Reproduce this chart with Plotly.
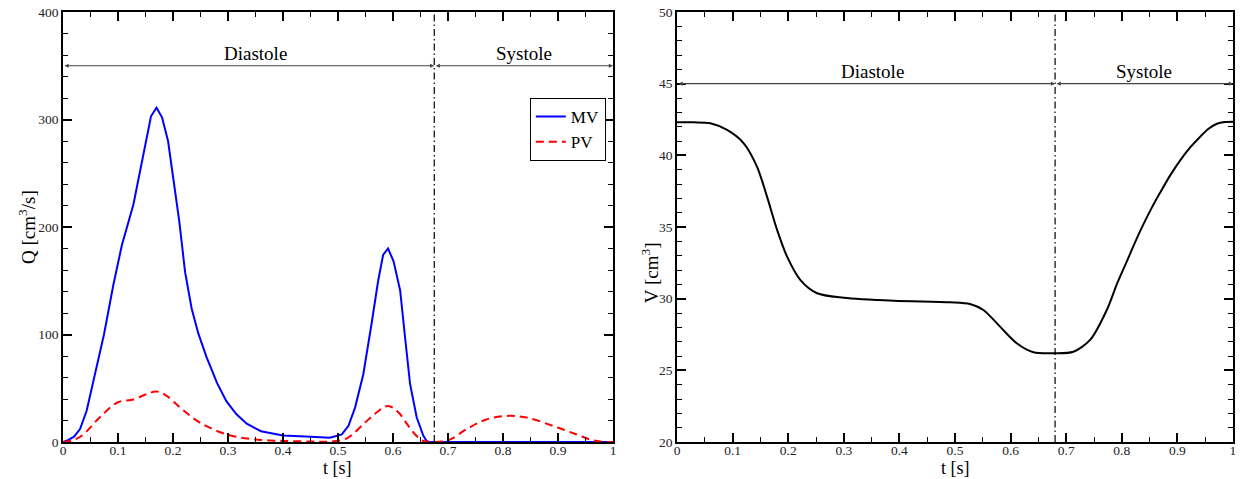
import plotly.graph_objects as go

# ---------------- data ----------------
t_mv = [0, 0.01, 0.02, 0.031, 0.043, 0.055, 0.0745, 0.0915, 0.107, 0.128, 0.14, 0.151,
        0.16, 0.17, 0.18, 0.191, 0.2, 0.2115, 0.222, 0.234, 0.246, 0.261, 0.28, 0.297,
        0.315, 0.334, 0.36, 0.40, 0.45, 0.485, 0.507, 0.519, 0.531, 0.546, 0.561, 0.573,
        0.582, 0.591, 0.601, 0.613, 0.622, 0.631, 0.643, 0.655, 0.661, 0.665, 0.7, 0.8,
        0.9, 1.0]
q_mv = [0, 2, 5, 12, 29, 55, 100, 146, 183, 221, 252, 283,
        303, 311, 302, 280, 249, 205, 158, 124, 101, 79, 55, 38,
        26, 17, 10, 6, 5, 4, 7, 15, 32, 63, 110, 150,
        174, 180, 168, 141, 97, 54, 23, 6, 1, 0, 0, 0,
        0, 0]

t_pv = [0, 0.02, 0.037, 0.067, 0.1, 0.128, 0.152, 0.17, 0.1885, 0.213, 0.249, 0.298,
        0.346, 0.40, 0.45, 0.485, 0.516, 0.546, 0.57, 0.591, 0.61, 0.628, 0.643, 0.655,
        0.67, 0.676, 0.704, 0.734, 0.77, 0.807, 0.843, 0.891, 0.934, 0.964, 0.99, 1.0]
q_pv = [0, 2, 7, 23, 37, 39.5, 44.5, 47, 43, 32, 18, 7,
        2.5, 1, 0.5, 0.5, 3.4, 16.5, 27.4, 33.6, 27.4, 15, 5.6, 1,
        0, 0, 2.5, 12, 21, 24.3, 22.7, 15, 7, 1.5, 0, 0]

t_v = [0, 0.03, 0.06, 0.09, 0.12, 0.144, 0.162, 0.18, 0.198, 0.222, 0.252, 0.30, 0.39,
       0.491, 0.527, 0.551, 0.581, 0.611, 0.641, 0.68, 0.713, 0.743, 0.773, 0.791, 0.809,
       0.824, 0.839, 0.854, 0.869, 0.887, 0.905, 0.923, 0.941, 0.956, 0.971, 0.985, 1.0]
v_lv = [42.31, 42.3, 42.24, 41.77, 40.84, 39.2, 37.1, 34.8, 32.93, 31.3, 30.38, 30.07, 29.86,
        29.75, 29.63, 29.21, 28.05, 26.89, 26.26, 26.19, 26.3, 27.12, 29.21, 31.0, 32.6,
        33.95, 35.2, 36.35, 37.4, 38.6, 39.65, 40.55, 41.3, 41.85, 42.2, 42.33, 42.35]

phase_labels = ["Diastole", "Systole"]
t_sys_left = 0.675     # start of systole (left panel)
t_sys_right = 0.68     # start of systole (right panel)
arrow_q = 350          # level of phase arrows, left panel
arrow_v = 45           # level of phase arrows, right panel

SERIF = "Liberation Serif"

fig = go.Figure()
fig.add_trace(go.Scatter(x=t_mv, y=q_mv, mode="lines", name="MV",
                         line=dict(color="#0000ff", width=2), xaxis="x", yaxis="y"))
fig.add_trace(go.Scatter(x=t_pv, y=q_pv, mode="lines", name="PV", line_shape="spline",
                         line=dict(color="#ff0000", width=2, dash="8px,5px"), xaxis="x", yaxis="y"))
fig.add_trace(go.Scatter(x=t_v, y=v_lv, mode="lines", name="V", line_shape="spline",
                         line=dict(color="black", width=2, smoothing=0.8), xaxis="x2", yaxis="y2",
                         showlegend=False))

def axis(rng, dtick, mdtick, domain=None, anchor=None, standoff=0):
    d = dict(range=rng, dtick=dtick, showline=True, linecolor="black", linewidth=1.5,
             mirror="allticks", ticks="inside", ticklen=9, tickwidth=1.5, tickcolor="black",
             minor=dict(ticks="inside", ticklen=5, tickwidth=1, tickcolor="black", dtick=mdtick),
             showgrid=False, zeroline=False, automargin=False, ticklabelstandoff=standoff,
             tickfont=dict(family=SERIF, size=13.5, color="#222"))
    if domain is not None:
        d["domain"] = domain
    if anchor is not None:
        d["anchor"] = anchor
    return d

xl = axis([0, 1], 0.1, 0.05, domain=[0, 0.4701], anchor="y", standoff=-5)
xr = axis([0, 1], 0.1, 0.05, domain=[0.5248, 1], anchor="y2", standoff=-5)
yl = axis([0, 400], 100, 20, anchor="x")
yr = axis([20, 50], 5, 1, anchor="x2")

TF = dict(family=SERIF, size=19, color="black")
XF = dict(family=SERIF, size=18, color="black")
annotations = [
    dict(text="t [s]", x=0.2350, y=-0.086, xref="paper", yref="paper", showarrow=False,
         xanchor="center", yanchor="bottom", font=XF, borderpad=0),
    dict(text="t [s]", x=0.7624, y=-0.086, xref="paper", yref="paper", showarrow=False,
         xanchor="center", yanchor="bottom", font=XF, borderpad=0),
    dict(text="Q [cm<sup>3</sup>/s]", x=-0.0308, y=0.5, xref="paper", yref="paper", showarrow=False,
         xanchor="center", yanchor="middle", textangle=-90, font=TF),
    dict(text="V [cm<sup>3</sup>]", x=0.5017, y=0.395, xref="paper", yref="paper", showarrow=False,
         xanchor="center", yanchor="middle", textangle=-90, font=TF),
]

def phase_arrows(xref, yref, level, tsys):
    for a, b in [(0, tsys), (tsys, 1)]:
        annotations.append(dict(x=b, y=level, ax=a, ay=level, xref=xref, yref=yref,
                                axref=xref, ayref=yref, text="", showarrow=True,
                                arrowhead=2, startarrowhead=2, arrowside="end+start",
                                arrowsize=0.7, startarrowsize=0.7,
                                arrowwidth=1.2, arrowcolor="#444"))
    annotations.append(dict(x=tsys / 2 + 0.0125, y=level, xref=xref, yref=yref, text=phase_labels[0],
                            showarrow=False, yanchor="bottom", yshift=0,
                            font=dict(family=SERIF, size=19, color="black")))
    annotations.append(dict(x=(tsys + 1) / 2, y=level, xref=xref, yref=yref, text=phase_labels[1],
                            showarrow=False, yanchor="bottom", yshift=0,
                            font=dict(family=SERIF, size=19, color="black")))

phase_arrows("x", "y", arrow_q, t_sys_left)
phase_arrows("x2", "y2", arrow_v, t_sys_right)

shapes = [
    dict(type="line", xref="x", yref="y", x0=t_sys_left, x1=t_sys_left, y0=0, y1=400,
         line=dict(color="black", width=1.2, dash="7px,3px,1.5px,3px")),
    dict(type="line", xref="x2", yref="y2", x0=t_sys_right, x1=t_sys_right, y0=20, y1=50,
         line=dict(color="black", width=1.2, dash="7px,3px,1.5px,3px")),
]

fig.update_layout(
    width=1244, height=479,
    margin=dict(l=63, r=11, t=12, b=37, autoexpand=False),
    paper_bgcolor="white", plot_bgcolor="white",
    xaxis=xl, yaxis=yl, xaxis2=xr, yaxis2=yr,
    annotations=annotations, shapes=shapes,
    legend=dict(x=0.399, y=0.8, xanchor="left", yanchor="top",
                bordercolor="black", borderwidth=1, bgcolor="white",
                font=dict(family=SERIF, size=17, color="black"),
                tracegroupgap=0, itemwidth=30),
    showlegend=True,
)

fig.write_html("out.html")
